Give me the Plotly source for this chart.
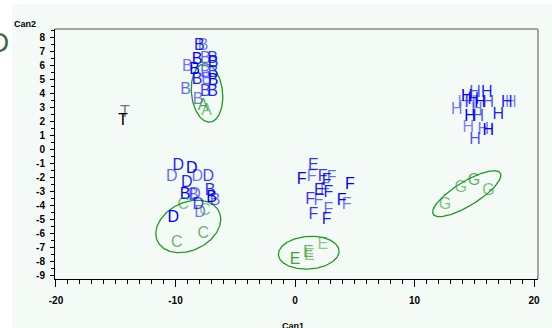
import numpy as np
import plotly.graph_objects as go

# ---- data (Can1, Can2) per group letter ----
B_x = [-8.0, -7.7, -8.2, -7.5, -6.9, -6.85, -9.0, -8.4, -7.5, -6.85, -8.2, -7.4, -6.85, -9.15, -7.5, -6.9, -8.1]
B_y = [7.4, 7.4, 6.4, 6.5, 6.5, 6.2, 5.95, 5.7, 5.5, 5.5, 5.0, 5.0, 4.9, 4.3, 4.15, 4.15, 3.55]
A_x = [-7.7, -7.4]
A_y = [3.1, 2.75]
D_x = [-9.77, -10.32, -8.64, -8.18, -7.26, -9.06, -8.37, -10.18, -7.95, -8.09]
D_y = [-1.19, -1.95, -1.38, -1.95, -1.95, -2.34, -3.21, -4.88, -4.52, -3.93]
B2_x = [-9.2, -8.51, -7.11, -6.97, -6.69]
B2_y = [-3.21, -3.33, -2.98, -3.45, -3.69]
C_x = [-9.35, -7.53, -7.67, -9.9]
C_y = [-3.93, -4.41, -6.02, -6.67]
F_x = [0.56, 1.4, 2.32, 3.07, 2.65, 4.6, 2.51, 1.26, 1.95, 2.79, 3.91, 4.33, 1.53, 2.79, 2.65]
F_y = [-2.14, -1.95, -1.95, -2.02, -2.26, -2.5, -2.86, -3.57, -3.69, -3.1, -3.69, -3.93, -4.64, -4.29, -5.0]
Eb_x = [1.53, 2.03]
Eb_y = [-1.19, -2.98]
E_x = [0.0, 1.11, 1.2, 2.32]
E_y = [-7.86, -7.38, -7.62, -6.79]
H_x = [13.53, 14.37, 15.06, 16.04, 14.08, 14.64, 15.48, 16.18, 17.72, 18.05, 15.2, 14.64, 15.34, 17.01, 14.5, 15.76, 16.18, 15.06, 14.92]
H_y = [2.86, 3.81, 4.05, 4.09, 3.34, 3.34, 3.34, 3.34, 3.34, 3.38, 2.86, 2.38, 2.38, 2.5, 1.55, 1.43, 1.31, 0.71, 3.57]
G_x = [12.55, 13.87, 14.98, 16.18]
G_y = [-3.93, -2.74, -2.26, -2.98]
T_x = [-14.23, -14.39]
T_y = [2.64, 2.07]

# ellipses: center x, center y, semi-major, semi-minor, angle (deg, data units)
ell_cx = [-7.36, -8.93, 1.15, 14.37]
ell_cy = [4.07, -5.48, -7.36, -3.14]
ell_a = [2.1, 2.8, 2.54, 3.17]
ell_b = [1.3, 1.75, 1.17, 0.89]
ell_ang = [98, 18, 3, 27]

xtick_vals = [-20, -10, 0, 10, 20]
xtick_text = ["-20", "-10", "0", "10", "20"]
ytick_vals = list(range(-9, 9))
ytick_text = [("-" + str(-v)) if v < 0 else str(v) for v in ytick_vals]

BLUE = "0,0,255"
GREEN = "40,150,40"
LETTER_FONT = "Liberation Sans"

fig = go.Figure()


def letters(xs, ys, letter, rgb, alphas):
    cols = [f"rgba({rgb},{alphas[i % len(alphas)]})" for i in range(len(xs))]
    fig.add_trace(go.Scatter(
        x=xs, y=ys, mode="text", text=[letter] * len(xs),
        textposition="middle center",
        textfont=dict(family=LETTER_FONT, size=16, color=cols),
        showlegend=False, hoverinfo="skip", cliponaxis=False))


# ellipses
t = np.linspace(0, 2 * np.pi, 200)
for cx, cy, a, b, ang in zip(ell_cx, ell_cy, ell_a, ell_b, ell_ang):
    th = np.deg2rad(ang)
    ex = cx + a * np.cos(t) * np.cos(th) - b * np.sin(t) * np.sin(th)
    ey = cy + a * np.cos(t) * np.sin(th) + b * np.sin(t) * np.cos(th)
    fig.add_trace(go.Scatter(x=ex, y=ey, mode="lines",
                             line=dict(color="#1e9a1e", width=1.3),
                             showlegend=False, hoverinfo="skip"))

letters(B_x, B_y, "B", BLUE, [0.9, 0.55, 1.0, 0.6, 0.75])
letters(A_x, A_y, "A", GREEN, [0.8, 0.6])
letters(D_x, D_y, "D", BLUE, [0.9, 0.6, 1.0, 0.55, 0.75])
letters(B2_x, B2_y, "B", BLUE, [1.0, 0.6, 0.85])
letters(C_x, C_y, "C", GREEN, [0.6, 0.55, 0.7, 0.7])
letters(F_x, F_y, "F", BLUE, [1.0, 0.55, 0.8, 0.6, 0.9])
letters(Eb_x, Eb_y, "E", BLUE, [0.8, 0.9])
letters(E_x, E_y, "E", GREEN, [0.9, 0.7, 0.55, 0.5])
letters(H_x, H_y, "H", BLUE, [0.55, 1.0, 0.7, 0.9, 0.5])
letters(G_x, G_y, "G", GREEN, [0.6, 0.6, 0.75, 0.6])
letters(T_x, T_y, "T", "0,0,0", [0.55, 1.0])

L, R, T, B = 55, 14, 29, 49
W, H = 552, 328
pw, ph = W - L - R, H - T - B


def px(xpix):
    return (xpix - L) / pw


def py(ypix):
    return (H - B - ypix) / ph


MINT = "#f4faf6"
tickfont = dict(family="Liberation Sans", size=10, color="black", weight="bold")

fig.update_layout(
    width=W, height=H,
    margin=dict(l=L, r=R, t=T, b=B, pad=0, autoexpand=False),
    paper_bgcolor="white", plot_bgcolor=MINT,
    showlegend=False,
    xaxis=dict(range=[-20.08, 20.33], showgrid=False, zeroline=False,
               showline=True, linecolor="black", linewidth=1,
               tickvals=xtick_vals, ticktext=xtick_text,
               ticks="outside", ticklen=7, tickcolor="black", tickwidth=1,
               minor=dict(dtick=1, ticks="outside", ticklen=4, tickcolor="black", tickwidth=1, showgrid=False),
               tickfont=tickfont, ticklabelstandoff=5),
    yaxis=dict(range=[-9.24, 8.64], showgrid=False, zeroline=False,
               showline=True, linecolor="black", linewidth=1,
               tickvals=ytick_vals, ticktext=ytick_text,
               ticks="outside", ticklen=4, tickcolor="black", tickwidth=1,
               minor=dict(dtick=0.5, ticks="outside", ticklen=3, tickcolor="black", tickwidth=1, showgrid=False),
               tickfont=tickfont, ticklabelstandoff=3),
    shapes=[
        dict(type="rect", xref="paper", yref="paper", x0=px(12), x1=px(552), y0=py(328), y1=py(4),
             fillcolor=MINT, line=dict(width=0), layer="below"),
        dict(type="line", xref="paper", yref="paper", x0=0, x1=1, y0=1, y1=1,
             line=dict(color="#a3a3a3", width=2)),
        dict(type="line", xref="paper", yref="paper", x0=1, x1=1, y0=0, y1=1,
             line=dict(color="#a3a3a3", width=2)),
    ],
    annotations=[
        dict(text="Can2", xref="paper", yref="paper", x=px(25), y=py(24), showarrow=False,
             xanchor="center", yanchor="middle", font=dict(family="Liberation Sans", size=9, color="black", weight="bold")),
        dict(text="Can1", xref="paper", yref="paper", x=px(293), y=py(319), showarrow=False,
             xanchor="center", yanchor="top", font=dict(family="Liberation Sans", size=9, color="black", weight="bold")),
        dict(text="D", xref="paper", yref="paper", x=px(11), y=py(42), showarrow=False,
             xanchor="right", yanchor="middle", font=dict(family="Liberation Sans", size=28, color="#3d6b38")),
    ],
)

fig.write_html("out.html", config={"displayModeBar": False},
               post_script="document.body.style.margin='0';document.body.style.overflow='hidden';")
